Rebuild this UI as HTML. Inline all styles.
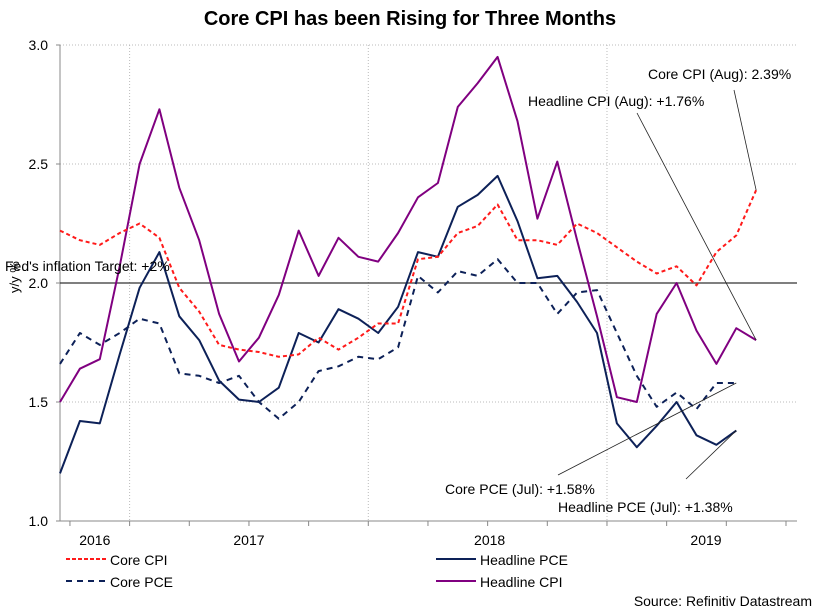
<!DOCTYPE html>
<html><head><meta charset="utf-8">
<style>
body{margin:0;background:#fff;}
svg{display:block;font-family:"Liberation Sans",Arial,sans-serif;}
</style></head>
<body>
<svg id="chart" width="819" height="613" viewBox="0 0 819 613">
<text x="410" y="25" text-anchor="middle" font-size="20" font-weight="bold" fill="#000">Core CPI has been Rising for Three Months</text>
<g id="grid"></g>
<g id="axes"></g>
<g id="series"></g>
<g id="annot"></g>
<g id="legend"></g>
<text x="812" y="606" text-anchor="end" font-size="14" fill="#000">Source: Refinitiv Datastream</text>
</svg>
<script>
const startLabel = "Sep 2016";
const yTicks = [1.0, 1.5, 2.0, 2.5, 3.0];
const yearLabels = ["2016", "2017", "2018", "2019"];
const coreCPI = [2.22,2.18,2.16,2.21,2.25,2.19,1.98,1.88,1.74,1.72,1.71,1.69,1.70,1.77,1.72,1.77,1.83,1.83,2.10,2.11,2.21,2.24,2.33,2.18,2.18,2.16,2.25,2.21,2.15,2.09,2.04,2.07,1.99,2.13,2.20,2.39];
const headlineCPI = [1.50,1.64,1.68,2.07,2.50,2.73,2.40,2.18,1.87,1.67,1.77,1.95,2.22,2.03,2.19,2.11,2.09,2.21,2.36,2.42,2.74,2.84,2.95,2.68,2.27,2.51,2.18,1.86,1.52,1.50,1.87,2.00,1.80,1.66,1.81,1.76];
const headlinePCE = [1.20,1.42,1.41,1.70,1.98,2.13,1.86,1.76,1.59,1.51,1.50,1.56,1.79,1.75,1.89,1.85,1.79,1.90,2.13,2.11,2.32,2.37,2.45,2.26,2.02,2.03,1.92,1.79,1.41,1.31,1.40,1.50,1.36,1.32,1.38];
const corePCE = [1.66,1.79,1.74,1.79,1.85,1.83,1.62,1.61,1.58,1.61,1.50,1.43,1.50,1.63,1.65,1.69,1.68,1.73,2.03,1.96,2.05,2.03,2.10,2.00,2.00,1.87,1.96,1.97,1.79,1.61,1.48,1.54,1.47,1.58,1.58];
const fedTarget = 2.0;

const NS="http://www.w3.org/2000/svg";
const L=60,R=797,T=45,B=521;
function y(v){return B-(v-1)*(B-T)/2;}
function x(i){return 60+i*19.89;}
function el(tag,attrs,parent){const e=document.createElementNS(NS,tag);for(const k in attrs)e.setAttribute(k,attrs[k]);parent.appendChild(e);return e;}
const grid=document.getElementById('grid'),axes=document.getElementById('axes'),series=document.getElementById('series'),annot=document.getElementById('annot'),legend=document.getElementById('legend');

yTicks.forEach(v=>{
  if(v!==1.0 && v!==2.0){const g=el('line',{x1:L,x2:R,y1:y(v),y2:y(v),stroke:'#bbb','stroke-dasharray':'1,2'},grid);
  
  }
  const t=el('text',{x:48,y:y(v)+5,'text-anchor':'end','font-size':14},axes);t.textContent=v.toFixed(1);
  
  
  const tk=el('line',{x1:L-4,x2:L,y1:y(v),y2:y(v),stroke:'#888'},axes);
  
  
});
[3.5,15.5,27.5].forEach(m=>{
  const xx=x(m);
  const g=el('line',{x1:xx,x2:xx,y1:T,y2:B,stroke:'#bbb','stroke-dasharray':'1,2'},grid);
  
  
});
for(let q=0.5;q<=37;q+=3){const xx=x(q); if(xx<L||xx>R)continue;
  const tk=el('line',{x1:xx,x2:xx,y1:B,y2:B+5,stroke:'#888'},axes);
  
  }
const yearPos=[(L+x(3.5))/2,(x(3.5)+x(15.5))/2,(x(15.5)+x(27.5))/2+2,(x(27.5)+R)/2+4];
yearLabels.forEach((s,i)=>{const t=el('text',{x:yearPos[i],y:545,'text-anchor':'middle','font-size':14},axes);t.textContent=s;
  
  });
const ax=el('path',{d:`M${L},${T}V${B}H${R}`,fill:'none',stroke:'#888'},axes);


const yt=el('text',{x:0,y:0,'font-size':13,transform:`translate(19,${y(2.0)+10}) rotate(-90)`},axes);yt.textContent='y/y %';



const fl=el('line',{x1:L,x2:R,y1:y(fedTarget),y2:y(fedTarget),stroke:'#333','stroke-width':1.2},series);


const ft=el('text',{x:5,y:y(fedTarget)-12,'font-size':14},annot);ft.textContent="Fed's inflation Target: +2%";



function line(data,color,dash,name){const d=data.map((v,i)=>(i?'L':'M')+x(i).toFixed(1)+','+y(v).toFixed(1)).join('');
  const p=el('path',{d,fill:'none',stroke:color,'stroke-width':2,'stroke-dasharray':dash||'none','stroke-linejoin':'round'},series);
  
  }
line(headlineCPI,'#800080',null,'headline-cpi-line');
line(corePCE,'#0d2158','6,5','core-pce-line');
line(headlinePCE,'#0d2158',null,'headline-pce-line');
line(coreCPI,'#ff1a1a','4,3','core-cpi-line');

function note(txt,tx,ty,lx1,ly1,idx,val,name){const t=el('text',{x:tx,y:ty,'font-size':14},annot);t.textContent=txt;
  
  
  const l=el('line',{x1:lx1,y1:ly1,x2:x(idx),y2:y(val),stroke:'#222','stroke-width':0.8},annot);
  
  }
note('Core CPI (Aug): 2.39%',648,79,734,90,35,coreCPI[35],'core-cpi-annotation');
note('Headline CPI (Aug): +1.76%',528,106,637,113,35,headlineCPI[35],'headline-cpi-annotation');
note('Core PCE (Jul): +1.58%',445,494,558,475,34,corePCE[34],'core-pce-annotation');
note('Headline PCE (Jul): +1.38%',558,512,686,479,34,headlinePCE[34],'headline-pce-annotation');

function leg(lx,ly,color,dash,txt,name){const l=el('line',{x1:lx,x2:lx+40,y1:ly,y2:ly,stroke:color,'stroke-width':2,'stroke-dasharray':dash||'none'},legend);
  
  
  const t=el('text',{x:lx+44,y:ly+6,'font-size':14},legend);t.textContent=txt;
  
  }
leg(66,559,'#ff1a1a','4,2','Core CPI','legend-core-cpi');
leg(66,581,'#0d2158','6,5','Core PCE','legend-core-pce');
leg(436,559,'#0d2158',null,'Headline PCE','legend-headline-pce');
leg(436,581,'#800080',null,'Headline CPI','legend-headline-cpi');
</script>
</body></html>
